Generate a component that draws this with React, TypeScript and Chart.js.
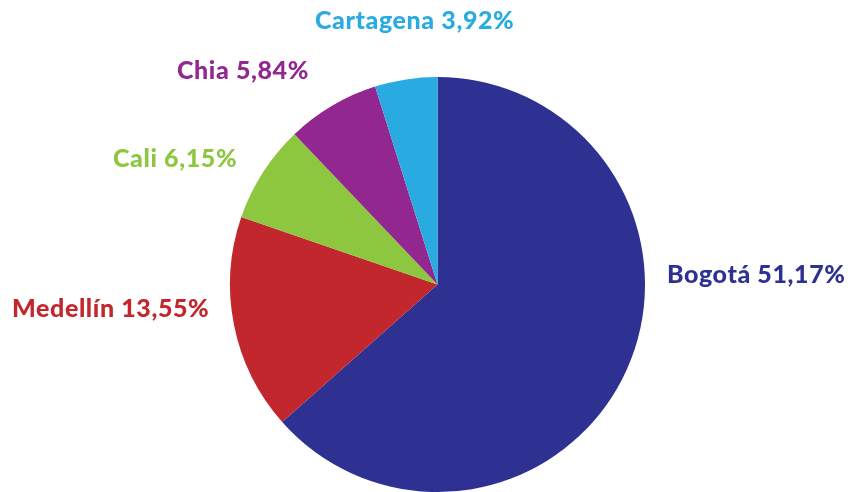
import React, { useEffect, useRef } from "react";
import { Chart, registerables } from "chart.js";

Chart.register(...registerables);

const cities = ["Bogotá", "Medellín", "Cali", "Chia", "Cartagena"];
const shares = [51.17, 13.55, 6.15, 5.84, 3.92];
const colors = ["#2E3192", "#C1272D", "#8DC63F", "#92278F", "#29ABE2"];
const shareLabels = ["51,17%", "13,55%", "6,15%", "5,84%", "3,92%"];
// label anchors: left x, baseline y (page pixels)
const labelAnchors = [
  [667, 283],
  [12, 317],
  [113, 167],
  [177, 79],
  [315, 29],
];

const labelPlugin = {
  id: "cityLabels",
  afterDraw(chart: any) {
    const ctx = chart.ctx;
    ctx.save();
    ctx.font = "900 25px Lato, 'Open Sans', sans-serif";
    (ctx as any).letterSpacing = "0.6px";
    ctx.textAlign = "left";
    ctx.textBaseline = "alphabetic";
    cities.forEach((c, i) => {
      ctx.fillStyle = colors[i];
      const [x, y] = labelAnchors[i];
      ctx.fillText(`${c} ${shareLabels[i]}`, x, y);
    });
    ctx.restore();
  },
};

export default function App() {
  const ref = useRef<HTMLCanvasElement>(null);
  useEffect(() => {
    document.body.style.margin = "0";
    const chart = new Chart(ref.current!, {
      type: "pie",
      data: {
        labels: cities,
        datasets: [
          {
            data: shares,
            backgroundColor: colors,
            borderWidth: 0,
          },
        ],
      },
      options: {
        animation: false,
        responsive: false,
        layout: { padding: { top: 77, bottom: 0, left: 230, right: 211 } },
        plugins: { legend: { display: false }, tooltip: { enabled: false } },
      },
      plugins: [labelPlugin],
    });
    return () => chart.destroy();
  }, []);
  return (
    <div style={{ position: "fixed", left: 0, top: 0, width: 856, height: 492, background: "#fff" }}>
      <canvas ref={ref} width={856} height={492} />
    </div>
  );
}
